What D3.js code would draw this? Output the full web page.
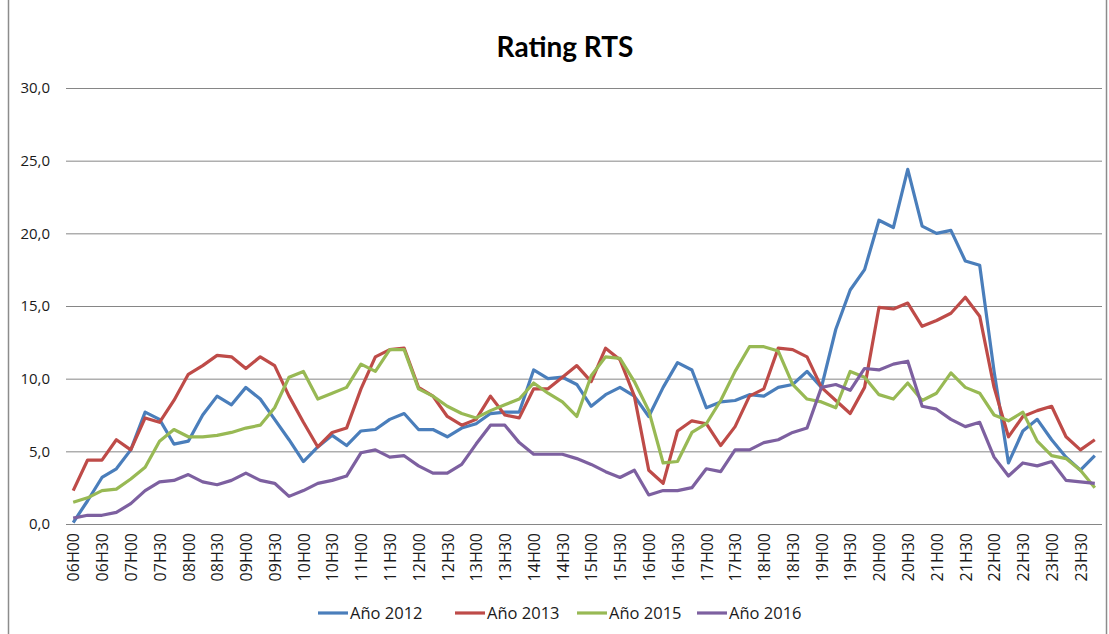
<!DOCTYPE html>
<html>
<head>
<meta charset="utf-8">
<script src="https://cdnjs.cloudflare.com/ajax/libs/d3/7.8.5/d3.min.js"></script>
<style>
body{margin:0;background:#fff}
text{font-family:"Open Sans",Lato,sans-serif}
</style>
</head>
<body>
<div id="chart"></div>
<script>
// data, one point every 15 minutes
let categories=["06H00","06H15","06H30","06H45","07H00","07H15","07H30","07H45",
"08H00","08H15","08H30","08H45","09H00","09H15","09H30","09H45",
"10H00","10H15","10H30","10H45","11H00","11H15","11H30","11H45",
"12H00","12H15","12H30","12H45","13H00","13H15","13H30","13H45",
"14H00","14H15","14H30","14H45","15H00","15H15","15H30","15H45",
"16H00","16H15","16H30","16H45","17H00","17H15","17H30","17H45",
"18H00","18H15","18H30","18H45","19H00","19H15","19H30","19H45",
"20H00","20H15","20H30","20H45","21H00","21H15","21H30","21H45",
"22H00","22H15","22H30","22H45","23H00","23H15","23H30","23H45"]
let tickLabels=categories.filter(c=>c.endsWith("00")||c.endsWith("30"))

let ano2012=[0.1,1.6,3.2,3.8,5.1,7.7,7.2,5.5,5.7,7.5,8.8,8.2,9.4,8.6,7.2,5.8,
4.3,5.3,6.1,5.4,6.4,6.5,7.2,7.6,6.5,6.5,6.0,6.6,6.9,7.6,7.7,7.7,
10.6,10.0,10.1,9.6,8.1,8.9,9.4,8.8,7.4,9.4,11.1,10.6,8.0,8.4,8.5,8.9,
8.8,9.4,9.6,10.5,9.4,13.4,16.1,17.5,20.9,20.4,24.4,20.5,20.0,20.2,18.1,17.8,
10.5,4.2,6.4,7.2,5.8,4.6,3.7,4.7]
let ano2013=[2.3,4.4,4.4,5.8,5.1,7.3,7.0,8.5,10.3,10.9,11.6,11.5,10.7,11.5,10.9,8.8,
7.0,5.3,6.3,6.6,9.3,11.5,12.0,12.1,9.4,8.8,7.4,6.8,7.2,8.8,7.5,7.3,
9.3,9.3,10.1,10.9,9.8,12.1,11.3,8.8,3.7,2.8,6.4,7.1,6.9,5.4,6.7,8.8,
9.3,12.1,12.0,11.5,9.4,8.5,7.6,9.4,14.9,14.8,15.2,13.6,14.0,14.5,15.6,14.3,
9.4,6.0,7.4,7.8,8.1,6.0,5.1,5.8]
let ano2015=[1.5,1.8,2.3,2.4,3.1,3.9,5.7,6.5,6.0,6.0,6.1,6.3,6.6,6.8,8.0,10.1,
10.5,8.6,9.0,9.4,11.0,10.5,12.0,12.0,9.3,8.8,8.1,7.6,7.3,7.8,8.2,8.6,
9.7,9.0,8.4,7.4,10.2,11.5,11.4,9.8,7.8,4.2,4.3,6.3,6.9,8.5,10.5,12.2,
12.2,11.9,9.6,8.6,8.4,8.0,10.5,10.1,8.9,8.6,9.7,8.5,9.0,10.4,9.4,9.0,
7.5,7.1,7.7,5.7,4.7,4.5,3.7,2.5]
let ano2016=[0.4,0.6,0.6,0.8,1.4,2.3,2.9,3.0,3.4,2.9,2.7,3.0,3.5,3.0,2.8,1.9,
2.3,2.8,3.0,3.3,4.9,5.1,4.6,4.7,4.0,3.5,3.5,4.1,5.5,6.8,6.8,5.6,
4.8,4.8,4.8,4.5,4.1,3.6,3.2,3.7,2.0,2.3,2.3,2.5,3.8,3.6,5.1,5.1,
5.6,5.8,6.3,6.6,9.4,9.6,9.2,10.7,10.6,11.0,11.2,8.1,7.9,7.2,6.7,7.0,
4.6,3.3,4.2,4.0,4.3,3.0,2.9,2.8]
let seriesNames=["Año 2012","Año 2013","Año 2015","Año 2016"]
let seriesColors=["#4A7EBB","#BE4B48","#98B954","#7D60A0"]
let yTicks=[0,5,10,15,20,25,30]

let series=[ano2012,ano2013,ano2015,ano2016].map((v,k)=>({name:seriesNames[k],color:seriesColors[k],values:v}))

let svgWidth=1109
let svgHeight=634
let plot={left:66,right:1102,top:88,bottom:524}

let svg=d3.select("#chart")
.append("svg")
.attr("width",svgWidth)
.attr("height",svgHeight)

// chart frame
svg.append("rect")
.attr("x",8.5).attr("y",-2)
.attr("width",1098).attr("height",svgHeight+10)
.attr("fill","none").attr("stroke","#8c8c8c").attr("stroke-width",1.5)

let x=d3.scalePoint()
.domain(categories)
.range([plot.left,plot.right])
.padding(0.5)
let y=d3.scaleLinear()
.domain([0,30])
.range([plot.bottom,plot.top])

// gridlines + y labels
let yAxis=d3.axisLeft(y)
.tickValues(yTicks)
.tickSize(-(plot.right-plot.left))
.tickPadding(16)
.tickFormat(d=>d3.format(".1f")(d).replace(".",","))
let yG=svg.append("g")
.attr("transform",`translate(${plot.left},0)`)
.call(yAxis)
yG.select(".domain").remove()
yG.selectAll(".tick line").attr("stroke","#868686").attr("stroke-width",1)
yG.selectAll(".tick text").attr("fill","#1a1a1a").style("font-size","15px")

// x labels
let xAxis=d3.axisBottom(x)
.tickValues(tickLabels)
.tickSize(0)
let xG=svg.append("g")
.attr("transform",`translate(0,${plot.bottom})`)
.call(xAxis)
xG.select(".domain").remove()
xG.selectAll(".tick text")
.attr("transform","rotate(-90)")
.attr("text-anchor","end")
.attr("x",-9)
.attr("y",0)
.attr("dy","0.36em")
.attr("fill","#1a1a1a")
.style("font-size","16px")

// lines
let line=d3.line()
.x((d,i)=>x(categories[i]))
.y(d=>y(d))
svg.selectAll(".serie")
.data(series)
.enter()
.append("path")
.attr("class","serie")
.attr("d",d=>line(d.values))
.attr("fill","none")
.attr("stroke",d=>d.color)
.attr("stroke-width",3.2)
.attr("stroke-linejoin","round")

// title
svg.append("text")
.attr("x",565)
.attr("y",57)
.attr("text-anchor","middle")
.style("font-family","Lato,sans-serif")
.style("font-size","28px")
.style("font-weight","bold")
.attr("fill","#000")
.text("Rating RTS")

// legend
let legendX=[318,455,577,697]
let legend=svg.selectAll(".legend")
.data(series)
.enter()
.append("g")
.attr("transform",(d,k)=>`translate(${legendX[k]},613)`)
legend.append("line")
.attr("x1",0).attr("x2",30)
.attr("stroke",d=>d.color)
.attr("stroke-width",3.2)
legend.append("text")
.attr("x",32)
.attr("dy","0.35em")
.style("font-size","16.5px")
.attr("fill","#1a1a1a")
.text(d=>d.name)
</script>
</body>
</html>
